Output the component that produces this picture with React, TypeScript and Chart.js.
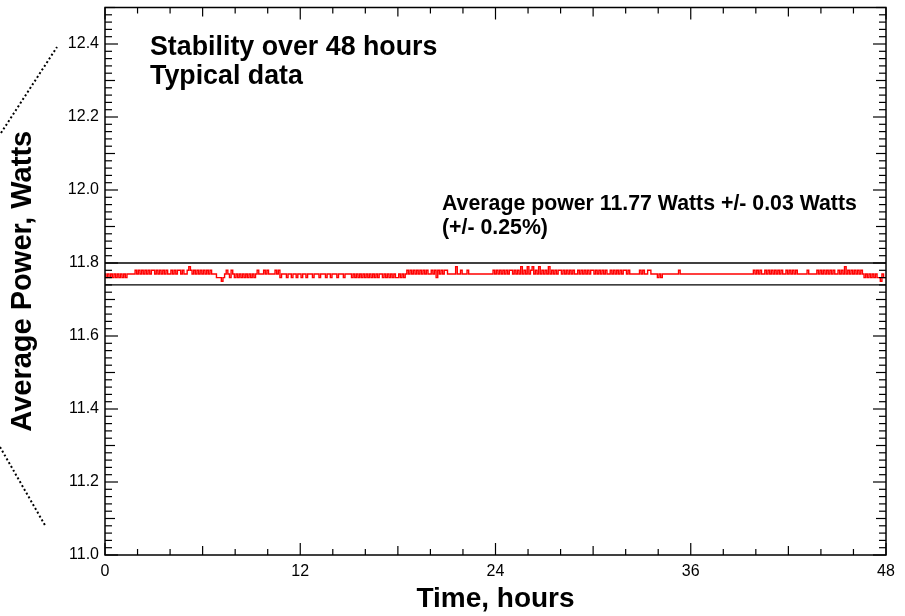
import React, { useEffect, useRef } from 'react';
import { Chart, registerables } from 'chart.js';

Chart.register(...registerables);

// ---- Data -------------------------------------------------------------
// Power readings sampled every 0.1 hour. Each digit d is a reading of (11.7 + d/100) W.
// One string per hour (10 samples each), read off the reference trace.
const SAMPLE_STEP_HOURS = 0.1;
const powerLevelsByHour: string[] = [
  '7676767676', '7676777778', '7878787878', '8787878787', '7878788787', '7898787878',
  '7878787776', '6656787687', '6767676767', '6767877787', '8777787867', '7767767767',
  '7677677767', '7767776776', '7776777677', '7767676767', '6767676767', '7676767676',
  '6767678787', '8787878787', '7878687878', '8777779778', '7778777777', '7777777778',
  '7878787878', '8787879787', '9789787978', '7879787878', '8787878787', '7878787878',
  '8787878787', '7878787878', '8787777778', '7877887777', '6767777777', '7778777777',
  '7777777777', '7777777777', '7777777777', '7777777778', '7878778787', '8787878778',
  '7878787777', '7787777787', '8787878787', '7878797878', '7878787676', '7676766576',
];
const finalLevel = '6';

const averagePower = 11.77;
const tolerance = 0.03;
const bandUpper = [averagePower + tolerance, averagePower + tolerance];
const bandLower = [averagePower - tolerance, averagePower - tolerance];
const bandHours = [0, 48];

const xTickValues = [0, 12, 24, 36, 48];
const yTickValues = [11.0, 11.2, 11.4, 11.6, 11.8, 12.0, 12.2, 12.4];
const xMin = 0, xMax = 48, yMin = 11.0, yMax = 12.5;

const titleLines = ['Stability over 48 hours', 'Typical data'];
const noteLines = ['Average power 11.77 Watts +/- 0.03 Watts', '(+/- 0.25%)'];

const FONT = "'Liberation Sans', Arial, Helvetica, sans-serif";

function buildPowerSeries() {
  const codes = powerLevelsByHour.join('') + finalLevel;
  const pts: { x: number; y: number }[] = [];
  for (let i = 0; i < codes.length; i++) {
    pts.push({ x: +(i * SAMPLE_STEP_HOURS).toFixed(2), y: +(11.7 + Number(codes[i]) / 100).toFixed(3) });
  }
  return pts;
}

const framePlugin = {
  id: 'frameAndTicks',
  afterDraw(chart: any) {
    const { ctx, chartArea, scales } = chart;
    const { left, right, top, bottom } = chartArea;
    const x = scales.x, y = scales.y;
    ctx.save();
    ctx.strokeStyle = '#000';
    ctx.lineWidth = 1.5;
    ctx.strokeRect(left, top, right - left, bottom - top);
    ctx.lineWidth = 1.2;
    const seg = (x1: number, y1: number, x2: number, y2: number) => {
      ctx.beginPath(); ctx.moveTo(x1, y1); ctx.lineTo(x2, y2); ctx.stroke();
    };
    for (let h = xMin; h <= xMax; h += 2) {
      const px = x.getPixelForValue(h);
      const len = h % 12 === 0 ? 12 : h % 6 === 0 ? 9 : 6;
      seg(px, bottom, px, bottom - len);
      seg(px, top, px, top + len);
    }
    for (let k = 0; k <= 75; k++) {
      const v = yMin + k * 0.02;
      const py = y.getPixelForValue(v);
      const len = k % 10 === 0 ? 13 : k % 5 === 0 ? 10 : 7;
      seg(left, py, left + len, py);
      seg(right, py, right - len, py);
    }

    // dotted zoom guides on the left
    ctx.setLineDash([2, 2.4]);
    ctx.lineWidth = 2;
    seg(1, 133, 57, 47);
    seg(0, 447, 46, 527);
    ctx.setLineDash([]);

    // annotations
    ctx.fillStyle = '#000';
    ctx.textAlign = 'left';
    ctx.textBaseline = 'alphabetic';
    ctx.font = `bold 26.8px ${FONT}`;
    ctx.fillText(titleLines[0], 150, 55);
    ctx.fillText(titleLines[1], 150, 84);
    ctx.font = `bold 21.3px ${FONT}`;
    ctx.fillText(noteLines[0], 442, 210);
    ctx.fillText(noteLines[1], 442, 234);
    ctx.restore();
  },
};

export default function App() {
  const ref = useRef<HTMLCanvasElement | null>(null);
  useEffect(() => {
    document.body.style.margin = '0';
    const canvas = ref.current;
    if (!canvas) return;
    const chart = new Chart(canvas, {
      type: 'line',
      data: {
        datasets: [
          {
            label: 'Upper bound',
            data: bandHours.map((h, i) => ({ x: h, y: bandUpper[i] })),
            borderColor: '#000',
            borderWidth: 1.3,
            pointRadius: 0,
          },
          {
            label: 'Lower bound',
            data: bandHours.map((h, i) => ({ x: h, y: bandLower[i] })),
            borderColor: '#000',
            borderWidth: 1.3,
            pointRadius: 0,
          },
          {
            label: 'Average power',
            data: buildPowerSeries(),
            borderColor: '#ff0000',
            borderWidth: 1.4,
            pointRadius: 0,
            stepped: 'middle',
          },
        ],
      },
      options: {
        responsive: false,
        animation: false,
        events: [],
        layout: { padding: { top: 7.5, right: 19, left: 0, bottom: 0 } },
        plugins: { legend: { display: false }, tooltip: { enabled: false } },
        scales: {
          x: {
            type: 'linear',
            min: xMin,
            max: xMax,
            afterBuildTicks: (s: any) => { s.ticks = xTickValues.map((v) => ({ value: v })); },
            afterFit: (s: any) => { s.height = 61; s.paddingLeft = 0; s.paddingRight = 0; },
            grid: { display: false, drawTicks: false },
            border: { display: false },
            ticks: {
              padding: 7,
              color: '#000',
              font: { family: FONT, size: 16 },
              maxRotation: 0,
              callback: (v: any) => String(v),
            },
            title: {
              display: true,
              text: 'Time, hours',
              color: '#000',
              font: { family: FONT, size: 28, weight: 'bold' },
              padding: { top: 0, bottom: 0 },
            },
          },
          y: {
            type: 'linear',
            min: yMin,
            max: yMax,
            afterBuildTicks: (s: any) => { s.ticks = yTickValues.map((v) => ({ value: v })); },
            afterFit: (s: any) => { s.width = 105; s.paddingTop = 0; s.paddingBottom = 0; },
            grid: { display: false, drawTicks: false },
            border: { display: false },
            ticks: {
              padding: 6,
              color: '#000',
              font: { family: FONT, size: 16 },
              callback: (v: any) => Number(v).toFixed(1),
            },
            title: {
              display: true,
              text: 'Average Power, Watts',
              color: '#000',
              font: { family: FONT, size: 29, weight: 'bold' },
              padding: { top: 6, bottom: 0 },
            },
          },
        },
      },
      plugins: [framePlugin],
    } as any);
    return () => chart.destroy();
  }, []);
  return (
    <div style={{ position: 'fixed', left: 0, top: 0, width: 905, height: 616, background: '#fff' }}>
      <canvas ref={ref} width={905} height={616} style={{ display: 'block' }} />
    </div>
  );
}
